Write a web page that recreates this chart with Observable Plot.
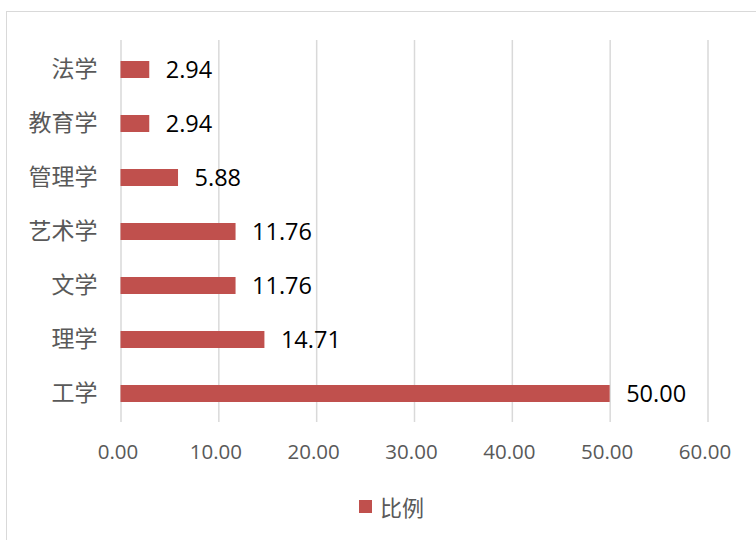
<!DOCTYPE html>
<html>
<head>
<meta charset="utf-8">
<script src="https://cdn.jsdelivr.net/npm/d3@7"></script>
<script src="https://cdn.jsdelivr.net/npm/@observablehq/plot@0.6"></script>
<style>
  html, body { margin: 0; padding: 0; background: #fff; overflow: hidden; width: 756px; height: 540px; }
  #frame { position: absolute; left: 6px; top: 11px; width: 800px; height: 600px; border: 1.5px solid #d9d9d9; box-sizing: border-box; }
  #chart { position: absolute; left: 0; top: 0; }
  #legend { position: absolute; left: 359px; top: 490px; height: 32px; display: flex; align-items: center; font-family: "Noto Sans CJK SC", sans-serif; font-size: 22px; color: #595959; }
  #legend .sw { width: 13px; height: 13px; background: #C0504D; margin-right: 8px; }
</style>
</head>
<body>
<div id="frame"></div>
<div id="chart"></div>
<div id="legend"><div class="sw"></div><span id="legname"></span></div>
<script>
const categories = ["法学", "教育学", "管理学", "艺术学", "文学", "理学", "工学"];
const values = [2.94, 2.94, 5.88, 11.76, 11.76, 14.71, 50.00];
const xTicks = [0, 10, 20, 30, 40, 50, 60];
const seriesName = "比例";

const data = categories.map((c, i) => ({ category: c, value: values[i] }));

document.getElementById("legname").textContent = seriesName;

const chart = Plot.plot({
  width: 756,
  height: 480,
  marginLeft: 120.5,
  marginRight: 48.5,
  marginTop: 40,
  marginBottom: 58,
  style: { background: "transparent", fontFamily: "'Open Sans', sans-serif" },
  x: { domain: [0, 60], ticks: xTicks, tickFormat: d3.format(".2f") },
  y: { domain: categories, paddingInner: 0.69, paddingOuter: 0.345 },
  marks: [
    Plot.ruleX(xTicks, { stroke: "#d9d9d9", strokeWidth: 1.5 }),
    Plot.barX(data, { x: "value", y: "category", fill: "#C0504D" }),
    Plot.text(data, {
      x: "value", y: "category",
      text: d => d.value.toFixed(2),
      dx: 16, textAnchor: "start",
      fill: "#000", fontSize: 23.5,
      fontFamily: "'Open Sans', sans-serif"
    }),
    Plot.axisX(xTicks, {
      tickSize: 0, tickPadding: 22, tickFormat: d3.format(".2f"),
      fontSize: 20.5, fill: "#595959", label: null, dx: -3,
      fontFamily: "'Open Sans', sans-serif"
    }),
    Plot.axisY({
      tickSize: 0, tickPadding: 23.5, fontSize: 23, fill: "#595959", label: null,
      fontFamily: "'Noto Sans CJK SC', sans-serif"
    })
  ]
});
document.getElementById("chart").appendChild(chart);
</script>
</body>
</html>
